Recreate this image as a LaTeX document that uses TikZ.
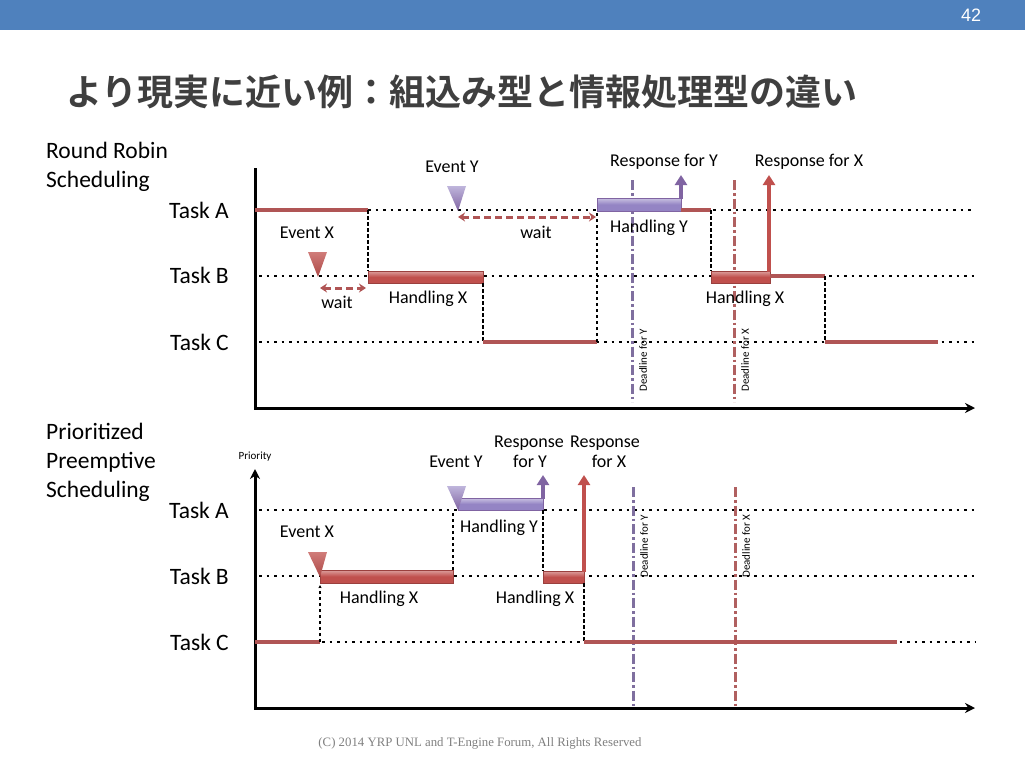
\documentclass[tikz,border=0pt]{standalone}
\usepackage{fontspec}
\setmainfont{Carlito}
\newfontfamily\jpfont{Noto Sans CJK JP Bold}
\newfontfamily\crfont{Liberation Serif}
\newfontfamily\numfont{Liberation Sans}
\usetikzlibrary{arrows.meta}
\definecolor{band}{HTML}{4F81BD}
\definecolor{redln}{HTML}{B05555}
\definecolor{redbar}{HTML}{C0504D}
\definecolor{purp}{HTML}{8064A2}
\definecolor{purpbar}{HTML}{9484C4}
\definecolor{dlred}{HTML}{B06060}
\definecolor{dlpurp}{HTML}{7F6F9F}
\definecolor{titlegray}{HTML}{3F3F3F}
\begin{document}
\begin{tikzpicture}[x=1pt,y=-1pt,
  lbl/.style={font=\fontsize{18}{20}\selectfont, anchor=base, inner sep=0pt},
  big/.style={font=\fontsize{23.5}{26}\selectfont, inner sep=0pt},
  tiny/.style={font=\fontsize{11}{12}\selectfont, inner sep=0pt},
  axisln/.style={line width=3pt, black},
  dotln/.style={line width=2.3pt, black, dash pattern=on 2.5pt off 5pt},
  dashln/.style={line width=1.8pt, black, dash pattern=on 3.5pt off 2.5pt},
  redline/.style={line width=3.5pt, redln},
  waitarr/.style={line width=3pt, redln, dash pattern=on 7pt off 4pt,
    {Stealth[length=7pt,width=9pt]}-{Stealth[length=7pt,width=9pt]}},
  resp/.style={line width=3.5pt, -{Triangle[length=10pt,width=12pt]}},
  redbarst/.style={top color=redbar!55!white, bottom color=redbar, middle color=redbar, draw=redbar!80!black, line width=0.4pt},
  purpbarst/.style={top color=purpbar!50!white, bottom color=purpbar, middle color=purpbar, draw=purp, line width=0.4pt},
  redtri/.style={top color=redbar!75!white, bottom color=redbar!90!black},
  purptri/.style={top color=purpbar!60!white, bottom color=purp},
  dline/.style={line width=3pt, dash pattern=on 10pt off 3pt on 2.5pt off 3pt},
]
\useasboundingbox (0,0) rectangle (1025,769);
\fill[white] (0,0) rectangle (1025,769);
% top band
\fill[band] (0,0) rectangle (1025,30);
\node[white, font=\numfont\fontsize{18}{20}\selectfont] (pg) at (971,15) {42};
% title
\node[titlegray, anchor=west, inner sep=0pt, font=\jpfont\fontsize{36}{40}\selectfont] (title) at (66,92) {より現実に近い例：組込み型と情報処理型の違い};

% ===== upper chart: Round Robin =====
\node[big, anchor=base west] (rr1) at (46,158) {Round Robin};
\node[big, anchor=base west] (rr2) at (46,187) {Scheduling};
\node[big, anchor=base east] (ta1) at (229,218) {Task A};
\node[big, anchor=base east] (tb1) at (229,283) {Task B};
\node[big, anchor=base east] (tc1) at (229,350) {Task C};

% dotted levels
\draw[dotln] (368,210) coordinate (uA0) -- (975,210) coordinate (uA1);
\draw[dotln] (259,276) coordinate (uB0) -- (975,276) coordinate (uB1);
\draw[dotln] (259,342) coordinate (uC0) -- (975,342) coordinate (uC1);

% deadlines
\draw[dline, dlpurp] (632,180) coordinate (udy0) -- (632,402) coordinate (udy1);
\draw[dline, dlred] (734,180) coordinate (udx0) -- (734,402) coordinate (udx1);
\node[tiny, rotate=90] (udyl) at (643,360) {Deadline for Y};
\node[tiny, rotate=90] (udxl) at (745,360) {Deadline for X};

% axes
\draw[axisln, -{Stealth[length=10pt,width=10pt]}] (255,168) coordinate (uax0) -- (255,408) coordinate (uax1) -- (975,408) coordinate (uax2);

% task traces
\draw[redline] (255,210) coordinate (ur0) -- (368,210) coordinate (ur1);
\draw[dashln] (ur1) -- (368,271) coordinate (ur2);
\shade[redbarst] (368,271) rectangle (483,283);
\coordinate (ur3) at (483,283);
\draw[dashln] (ur3) -- (483,342) coordinate (ur4);
\draw[redline] (ur4) -- (597,342) coordinate (ur5);
\draw[dashln] (ur5) -- (597,211) coordinate (ur6);
\shade[purpbarst] (597,198) rectangle (681,211);
\draw[resp, purp] (681,199) coordinate (ury0) -- (681,175) coordinate (ury1);
\draw[redline] (681,210) coordinate (ur7) -- (711,210) coordinate (ur8);
\draw[dashln] (ur8) -- (711,271) coordinate (ur9);
\shade[redbarst] (711,271) rectangle (770,283);
\draw[resp, redbar] (769,272) coordinate (urx0) -- (769,175) coordinate (urx1);
\draw[redline] (770,276) coordinate (ur10) -- (825,276) coordinate (ur11);
\draw[dashln] (ur11) -- (825,342) coordinate (ur12);
\draw[redline] (ur12) -- (938,342) coordinate (ur13);

% events
\shade[redtri] (308,252) -- (327,252) -- (318,277) -- cycle;
\coordinate (uex) at (318,277);
\shade[purptri] (447,186) -- (466,186) -- (458,211) -- cycle;
\coordinate (uey) at (458,211);

% waits
\draw[waitarr] (320,288) coordinate (uw0) -- (366,288) coordinate (uw1);
\draw[waitarr] (458,217) coordinate (uw2) -- (596,217) coordinate (uw3);

% labels
\node[lbl] (uevy) at (452,172) {Event Y};
\node[lbl] (uevx) at (307,238) {Event X};
\node[lbl] (uwt1) at (337,308) {wait};
\node[lbl] (uwt2) at (536,238) {wait};
\node[lbl] (uhx1) at (428,303) {Handling X};
\node[lbl] (uhy) at (649,232) {Handling Y};
\node[lbl] (uhx2) at (745,303) {Handling X};
\node[lbl] (urfy) at (664,166) {Response for Y};
\node[lbl] (urfx) at (809,166) {Response for X};

% ===== lower chart: Prioritized Preemptive =====
\node[big, anchor=base west] (pp1) at (46,439) {Prioritized};
\node[big, anchor=base west] (pp2) at (46,468) {Preemptive};
\node[big, anchor=base west] (pp3) at (46,497) {Scheduling};
\node[big, anchor=base east] (ta2) at (229,518) {Task A};
\node[big, anchor=base east] (tb2) at (229,584) {Task B};
\node[big, anchor=base east] (tc2) at (229,650) {Task C};
\node[tiny, anchor=base] (prio) at (255,459) {Priority};

% dotted levels
\draw[dotln] (259,510) coordinate (lA0) -- (975,510) coordinate (lA1);
\draw[dotln] (259,576) coordinate (lB0) -- (975,576) coordinate (lB1);
\draw[dotln] (322,642) coordinate (lC0) -- (975,642) coordinate (lC1);

% deadlines
\draw[dline, dlpurp] (633,487) coordinate (ldy0) -- (633,708) coordinate (ldy1);
\draw[dline, dlred] (735,487) coordinate (ldx0) -- (735,708) coordinate (ldx1);
\node[tiny, rotate=90] (ldyl) at (644,546) {Deadline for Y};
\node[tiny, rotate=90] (ldxl) at (746,546) {Deadline for X};

% axes
\draw[axisln, {Stealth[length=10pt,width=10pt]}-{Stealth[length=10pt,width=10pt]}] (255,469) coordinate (lax0) -- (255,708) coordinate (lax1) -- (975,708) coordinate (lax2);

% traces
\draw[redline] (255,642) coordinate (lr0) -- (320,642) coordinate (lr1);
\draw[dashln, -{Stealth[length=3pt,width=3pt]}] (lr1) -- (320,585) coordinate (lr2);
\shade[redbarst] (320,570) rectangle (453,583);
\draw[dashln] (453,570) coordinate (lr3) -- (453,510) coordinate (lr4);
\shade[purpbarst] (458,498) rectangle (543,510);
\draw[resp, purp] (543,499) coordinate (lry0) -- (543,475) coordinate (lry1);
\draw[dashln] (543,510) coordinate (lr5) -- (543,571) coordinate (lr6);
\shade[redbarst] (543,571) rectangle (584,583);
\draw[resp, redbar] (584,572) coordinate (lrx0) -- (584,475) coordinate (lrx1);
\draw[dashln] (584,583) coordinate (lr7) -- (584,642) coordinate (lr8);
\draw[redline] (lr8) -- (897,642) coordinate (lr9);

% events
\shade[redtri] (308,552) -- (327,552) -- (320,577) -- cycle;
\coordinate (lex) at (320,577);
\shade[purptri] (447,486) -- (466,486) -- (458,510) -- cycle;
\coordinate (ley) at (458,510);

% labels
\node[lbl] (levy) at (456,467) {Event Y};
\node[lbl] (lrs1) at (529,447) {Response};
\node[lbl] (lfy) at (530,467) {for Y};
\node[lbl] (lrs2) at (605,447) {Response};
\node[lbl] (lfx) at (609,467) {for X};
\node[lbl] (levx) at (307,537) {Event X};
\node[lbl] (lhy) at (499,532) {Handling Y};
\node[lbl] (lhx1) at (379,603) {Handling X};
\node[lbl] (lhx2) at (535,603) {Handling X};

% copyright
\node[gray, font=\crfont\fontsize{12.8}{14}\selectfont, inner sep=0pt] (copy) at (480,743) {(C) 2014 YRP UNL and T-Engine Forum, All Rights Reserved};
\end{tikzpicture}
\end{document}
